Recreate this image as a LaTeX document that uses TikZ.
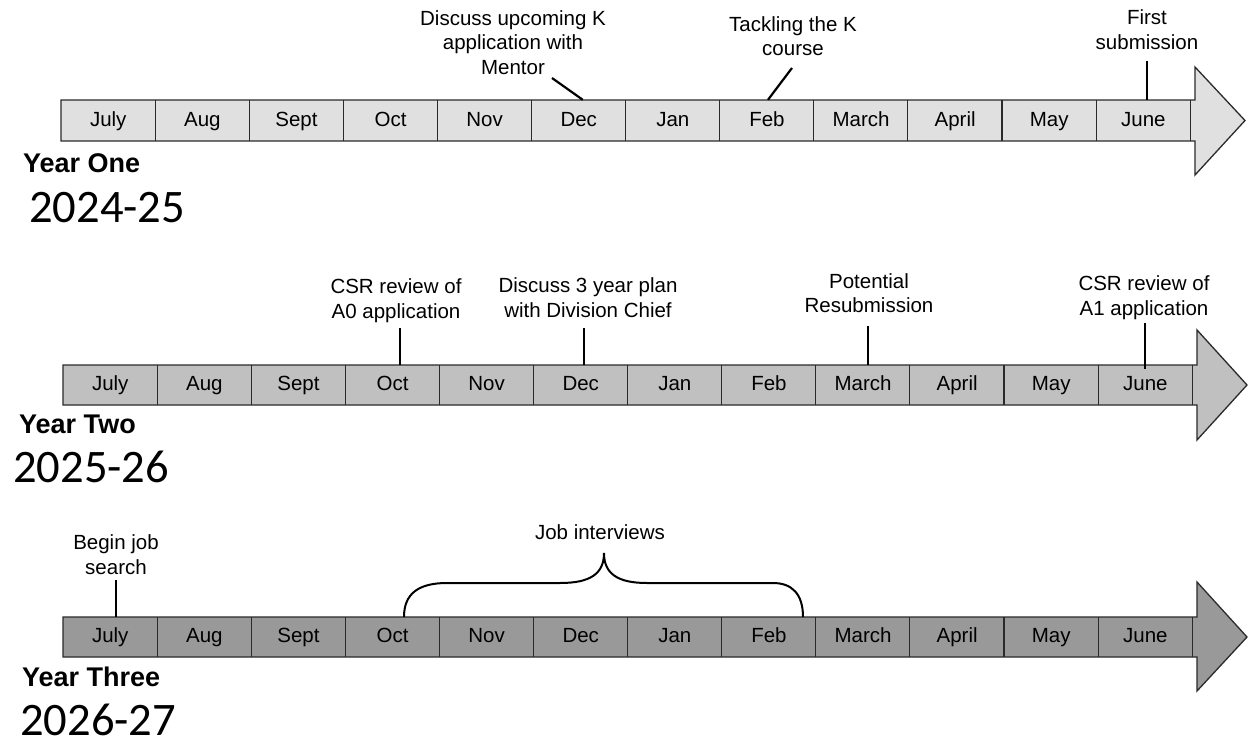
\documentclass[tikz,border=0pt]{standalone}
\usepackage{fontspec}
\setmainfont{Liberation Sans}
\newfontfamily\yearfont{Carlito}
\definecolor{fillA}{HTML}{E0E0E0}
\definecolor{fillB}{HTML}{C0C0C0}
\definecolor{fillC}{HTML}{999999}
\definecolor{edge}{HTML}{2A2A2A}
\begin{document}
\begin{tikzpicture}[x=1pt,y=-1pt,
  cell/.style={minimum width=94.1pt, minimum height=#1,
    inner sep=0pt, anchor=west, text height=15pt, text depth=4pt,
    font=\fontsize{20.5}{24}\selectfont},
  divider/.style={draw=edge, line width=1.1pt},
  bar/.style={draw=edge, line width=1.3pt, line join=miter},
  note/.style={align=center, inner sep=0pt, font=\fontsize{20.5}{24.5}\selectfont},
  tick/.style={line width=2.2pt, draw=black},
  brace/.style={line width=2pt, draw=black},
  yearlabel/.style={anchor=base west, inner sep=0pt, font=\fontsize{27}{30}\selectfont\bfseries},
  yearnum/.style={anchor=base west, inner sep=0pt, font=\fontsize{46.6}{50}\selectfont\yearfont}
]
\useasboundingbox (0,0) rectangle (1256,742);

% ---------- Year One ----------
\path[bar, fill=fillA] (61,100) -- (1195,100) -- (1195,67) -- (1245,120.5) -- (1195,175)
  -- (1195,141) -- (61,141) -- cycle;
\foreach \m [count=\i from 0] in {July,Aug,Sept,Oct,Nov,Dec,Jan,Feb,March,April,May,June}
  \node[cell=41pt] (a\i) at (61+\i*94.1,120.5) {\m};
\foreach \i in {1,...,11}
  \draw[divider] (a\i.north west) -- (a\i.south west);
\draw[divider] (a11.north east) -- (a11.south east);

\node[yearlabel] (y1) at (23,172) {Year One};
\node[yearnum] (y1n) at (29,222) {2024-25};

\node[note] (n1) at (513,42.5) {Discuss upcoming K\\application with\\Mentor};
\node[note] (n2) at (793,36) {Tackling the K\\course};
\node[note] (n3) at (1147,29.5) {First\\submission};

\coordinate (k1) at (552,78);
\coordinate (k2) at (792,68);
\coordinate (k3) at (1147,61);
\draw[tick] (k1) -- ([xshift=4pt]a5.north);
\draw[tick] (k2) -- ([xshift=1pt]a7.north);
\draw[tick] (k3) -- (k3 |- a11.north);

% ---------- Year Two ----------
\path[bar, fill=fillB] (63,365) -- (1197,365) -- (1197,330) -- (1247,385) -- (1197,440)
  -- (1197,405) -- (63,405) -- cycle;
\foreach \m [count=\i from 0] in {July,Aug,Sept,Oct,Nov,Dec,Jan,Feb,March,April,May,June}
  \node[cell=40pt] (b\i) at (63+\i*94.1,385) {\m};
\foreach \i in {1,...,11}
  \draw[divider] (b\i.north west) -- (b\i.south west);
\draw[divider] (b11.north east) -- (b11.south east);

\node[yearlabel] (y2) at (19,433) {Year Two};
\node[yearnum] (y2n) at (13,482) {2025-26};

\node[note] (n4) at (396,300.5) {CSR review of\\A0 application};
\node[note] (n5) at (588,297.5) {Discuss 3 year plan\\with Division Chief};
\node[note] (n6) at (869,293) {Potential\\Resubmission};
\node[note] (n7) at (1144,297.5) {CSR review of\\A1 application};

\coordinate (k4) at (400,328);
\coordinate (k5) at (584,328);
\coordinate (k6) at (868,326);
\coordinate (k7) at (1145,323);
\draw[tick] (k4) -- (k4 |- b3.north);
\draw[tick] (k5) -- (k5 |- b5.north);
\draw[tick] (k6) -- (k6 |- b8.north);
\draw[tick] (k7) -- ([yshift=-4pt]k7 |- b11.north);

% ---------- Year Three ----------
\path[bar, fill=fillC] (63,617) -- (1197,617) -- (1197,582) -- (1247,637) -- (1197,691)
  -- (1197,657) -- (63,657) -- cycle;
\foreach \m [count=\i from 0] in {July,Aug,Sept,Oct,Nov,Dec,Jan,Feb,March,April,May,June}
  \node[cell=40pt] (c\i) at (63+\i*94.1,637) {\m};
\foreach \i in {1,...,11}
  \draw[divider] (c\i.north west) -- (c\i.south west);
\draw[divider] (c11.north east) -- (c11.south east);

\node[yearlabel] (y3) at (22,686) {Year Three};
\node[yearnum] (y3n) at (20,735) {2026-27};

\node[note] (n8) at (116,554.5) {Begin job\\search};
\node[note] (n9) at (600,532) {Job interviews};

\coordinate (k8) at (116,580);
\draw[tick] (k8) -- (k8 |- c0.north);

\coordinate (bl) at (404,617);
\coordinate (bt) at (604,553);
\coordinate (br) at (803,617);
\draw[brace] (bl) .. controls (404,594) and (418,583) .. (447,583) -- (560,583)
  .. controls (590,583) and (604,574) .. (bt)
  .. controls (604,574) and (618,583) .. (647,583) -- (773,583)
  .. controls (792,583) and (803,594) .. (br);
\end{tikzpicture}
\end{document}
